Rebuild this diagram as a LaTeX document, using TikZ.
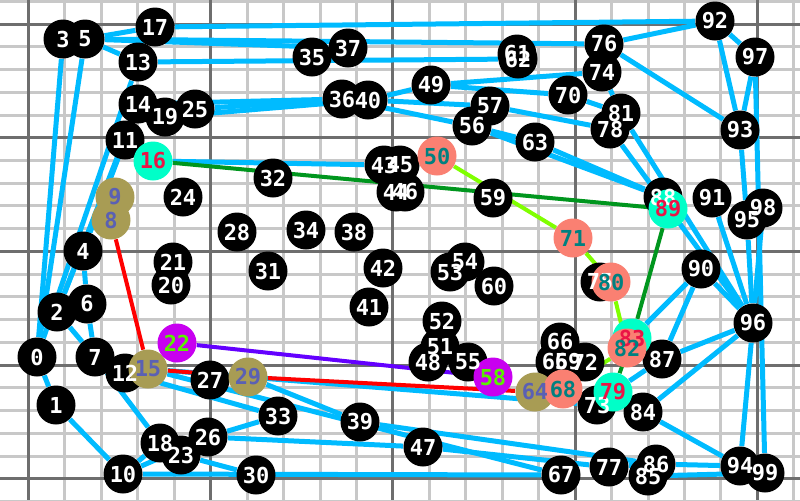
\documentclass[tikz,border=0pt]{standalone}
\usepackage{fontspec}
\newfontfamily\numfont{DejaVu Sans Mono}
\definecolor{gridlt}{RGB}{200,200,200}
\definecolor{griddk}{RGB}{110,110,110}
\definecolor{linkblue}{RGB}{0,187,255}
\definecolor{aquaA}{RGB}{0,255,200}
\definecolor{crimsonA}{RGB}{235,20,70}
\definecolor{oliveO}{RGB}{168,156,84}
\definecolor{slateO}{RGB}{90,96,180}
\definecolor{salmonS}{RGB}{250,128,114}
\definecolor{tealS}{RGB}{0,128,128}
\definecolor{purpleP}{RGB}{200,0,240}
\definecolor{limeP}{RGB}{90,240,0}
\definecolor{routeG}{RGB}{0,150,30}
\definecolor{routeL}{RGB}{128,255,0}
\definecolor{routeP}{RGB}{100,0,255}
\pgfdeclarelayer{gridlayer}
\pgfdeclarelayer{edgelayer}
\pgfdeclarelayer{textlayer}
\pgfsetlayers{gridlayer,edgelayer,main,textlayer}
\tikzset{
  vtx/.style={circle, fill=black, minimum size=19.5pt, inner sep=0pt},
  vtxA/.style={vtx, fill=aquaA},
  vtxO/.style={vtx, fill=oliveO},
  vtxS/.style={vtx, fill=salmonS},
  vtxP/.style={vtx, fill=purpleP},
  num/.style={inner sep=0pt, font=\numfont\bfseries\fontsize{11}{11}\selectfont},
  link/.style={linkblue, line width=2.5pt},
  pathG/.style={routeG, line width=2pt},
  pathR/.style={red, line width=2pt},
  pathL/.style={routeL, line width=2pt},
  pathP/.style={routeP, line width=2pt},
}
\begin{document}
\begin{tikzpicture}[x=0.5pt,y=-0.5pt]
\useasboundingbox (0,0) rectangle (800,500);
\begin{pgfonlayer}{gridlayer}
  \fill[white] (0,0) rectangle (800,500);
  \foreach \i in {0,...,22}
    \draw[gridlt, line width=1.5pt] ({-7.9+36.44*\i},0) -- ++(0,500);
  \foreach \i in {0,...,22}
    \draw[gridlt, line width=1.5pt] (0,{1.3+22.74*\i}) -- ++(800,0);
  \foreach \x in {28.5,210.7,392.9,575.1,757.3}
    \draw[griddk, line width=1.5pt] (\x,0) -- ++(0,500);
  \foreach \y in {24,137.7,251.4,365.1,478.8}
    \draw[griddk, line width=1.5pt] (0,\y) -- ++(800,0);
\end{pgfonlayer}
% plain stops
\node[vtx] (n0) at (37,357) {};
\node[vtx] (n1) at (56,405) {};
\node[vtx] (n2) at (57,312) {};
\node[vtx] (n3) at (63,39) {};
\node[vtx] (n4) at (83,251) {};
\node[vtx] (n5) at (85,39) {};
\node[vtx] (n6) at (87,304) {};
\node[vtx] (n7) at (95,357) {};
\node[vtx] (n10) at (123,474) {};
\node[vtx] (n11) at (125,140) {};
\node[vtx] (n12) at (125,373) {};
\node[vtx] (n13) at (138,62) {};
\node[vtx] (n14) at (138,104) {};
\node[vtx] (n17) at (155,27) {};
\node[vtx] (n18) at (160,443) {};
\node[vtx] (n19) at (165,117) {};
\node[vtx] (n20) at (171,285) {};
\node[vtx] (n21) at (173,262) {};
\node[vtx] (n23) at (181,455) {};
\node[vtx] (n24) at (183,197) {};
\node[vtx] (n25) at (195,109) {};
\node[vtx] (n26) at (208,437) {};
\node[vtx] (n27) at (210,380) {};
\node[vtx] (n28) at (237,232) {};
\node[vtx] (n30) at (256,475) {};
\node[vtx] (n31) at (268,271) {};
\node[vtx] (n32) at (273,178) {};
\node[vtx] (n33) at (278,416) {};
\node[vtx] (n34) at (306,230) {};
\node[vtx] (n35) at (312,57) {};
\node[vtx] (n36) at (342,99) {};
\node[vtx] (n37) at (348,48) {};
\node[vtx] (n38) at (354,232) {};
\node[vtx] (n39) at (360,422) {};
\node[vtx] (n40) at (368,100) {};
\node[vtx] (n41) at (369,307) {};
\node[vtx] (n42) at (383,268) {};
\node[vtx] (n43) at (384,165) {};
\node[vtx] (n44) at (396,192) {};
\node[vtx] (n45) at (400,165) {};
\node[vtx] (n46) at (405,192) {};
\node[vtx] (n47) at (423,447) {};
\node[vtx] (n48) at (428,362) {};
\node[vtx] (n49) at (431,85) {};
\node[vtx] (n51) at (440,347) {};
\node[vtx] (n52) at (442,321) {};
\node[vtx] (n53) at (450,272) {};
\node[vtx] (n54) at (465,262) {};
\node[vtx] (n55) at (468,362) {};
\node[vtx] (n56) at (472,126) {};
\node[vtx] (n57) at (490,106) {};
\node[vtx] (n59) at (493,198) {};
\node[vtx] (n60) at (494,286) {};
\node[vtx] (n61) at (517,54) {};
\node[vtx] (n62) at (518,59) {};
\node[vtx] (n63) at (535,142) {};
\node[vtx] (n65) at (555,362) {};
\node[vtx] (n66) at (560,342) {};
\node[vtx] (n67) at (561,475) {};
\node[vtx] (n69) at (568,362) {};
\node[vtx] (n70) at (568,95) {};
\node[vtx] (n72) at (585,362) {};
\node[vtx] (n73) at (597,405) {};
\node[vtx] (n74) at (602,72) {};
\node[vtx] (n75) at (600,282) {};
\node[vtx] (n76) at (604,44) {};
\node[vtx] (n77) at (609,467) {};
\node[vtx] (n78) at (610,129) {};
\node[vtx] (n81) at (621,113) {};
\node[vtx] (n84) at (643,412) {};
\node[vtx] (n85) at (648,476) {};
\node[vtx] (n86) at (656,464) {};
\node[vtx] (n87) at (662,359) {};
\node[vtx] (n88) at (663,197) {};
\node[vtx] (n90) at (701,269) {};
\node[vtx] (n91) at (712,198) {};
\node[vtx] (n92) at (715,21) {};
\node[vtx] (n93) at (740,130) {};
\node[vtx] (n94) at (740,466) {};
\node[vtx] (n95) at (747,220) {};
\node[vtx] (n96) at (753,323) {};
\node[vtx] (n97) at (755,57) {};
\node[vtx] (n98) at (763,208) {};
\node[vtx] (n99) at (765,473) {};
% routed stops
\node[vtxA] (n16) at (153,161) {};
\node[vtxA] (n89) at (668,209) {};
\node[vtxA] (n83) at (632,338) {};
\node[vtxA] (n79) at (613,392) {};
\node[vtxO] (n9) at (115,197) {};
\node[vtxO] (n8) at (111,220) {};
\node[vtxO] (n15) at (148,369) {};
\node[vtxO] (n29) at (248,377) {};
\node[vtxO] (n64) at (535,392) {};
\node[vtxP] (n22) at (177,343) {};
\node[vtxP] (n58) at (493,377) {};
\node[vtxS] (n50) at (437,156) {};
\node[vtxS] (n71) at (573,238) {};
\node[vtxS] (n80) at (611,282) {};
\node[vtxS] (n82) at (627,348) {};
\node[vtxS] (n68) at (563,389) {};
\begin{pgfonlayer}{textlayer}
  \foreach \k in {0,...,7,10,11,12,13,14,17,18,19,20,21,23,24,25,26,27,28,30,31,
      32,33,34,35,36,37,38,39,40,41,42,43,44,45,46,47,48,49,51,52,53,54,55,56,57,
      59,60,61,62,63,65,66,67,69,70,72,73,74,75,76,77,78,81,84,85,86,87,88,90,91,
      92,93,94,95,96,97,98,99}
    \node[num, white] at (n\k) {\k};
  \foreach \k in {16,89,83,79}
    \node[num, crimsonA] at (n\k) {\k};
  \foreach \k in {9,8,15,29,64}
    \node[num, slateO] at (n\k) {\k};
  \foreach \k in {22,58}
    \node[num, limeP] at (n\k) {\k};
  \foreach \k in {50,71,80,82,68}
    \node[num, tealS] at (n\k) {\k};
\end{pgfonlayer}
\begin{pgfonlayer}{edgelayer}
  % network
  \foreach \a/\b in {17/92, 5/17, 5/13, 5/37, 5/76, 13/62, 3/0, 5/0, 13/0, 11/4,
      11/2, 14/2, 14/36, 19/40, 25/36, 16/43, 40/49, 40/57, 36/56, 49/70, 49/74,
      56/63, 57/78, 63/88, 56/88, 70/81, 74/81, 76/92, 76/93, 92/93, 92/97, 97/93,
      97/99, 93/95, 81/96, 78/96, 91/96, 98/96, 95/96, 90/96, 90/83, 90/87, 87/96,
      84/96, 84/94, 94/96, 86/94, 85/99, 77/86, 87/79, 47/77, 39/86, 10/67, 23/30,
      26/33, 26/47, 15/73, 15/67, 29/39, 0/1, 1/10, 10/18, 7/18, 2/7, 6/7, 4/6,
      10/26, 12/33}
    \draw[link] (n\a) -- (n\b);
  % routes
  \draw[pathG] (n16) -- (n89) -- (n83) -- (n79);
  \draw[pathR] (n9) -- (n8) -- (n15) -- (n29) -- (n64);
  \draw[pathL] (n50) -- (n71) -- (n80) -- (n82) -- (n68);
  \draw[pathP] (n22) -- (n58);
\end{pgfonlayer}
\end{tikzpicture}
\end{document}
